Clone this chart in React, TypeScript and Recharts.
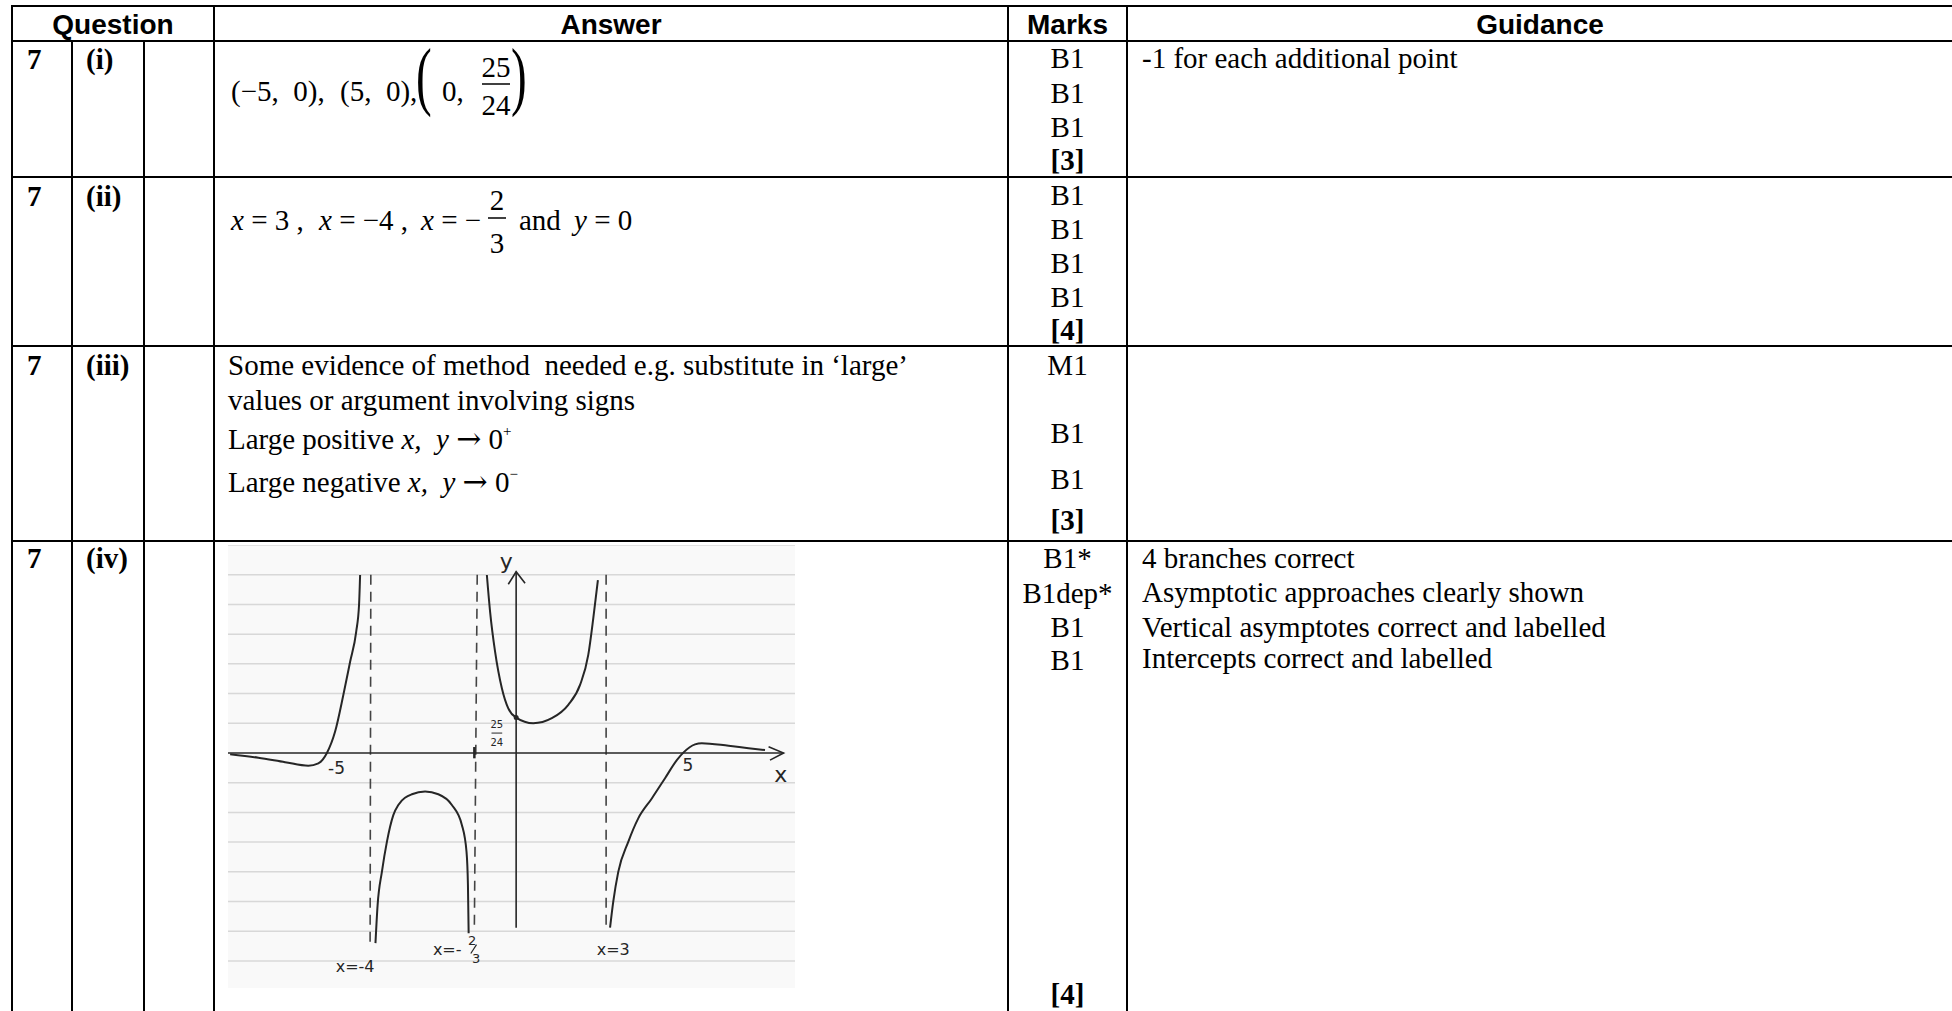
import React from "react";
import {
  ComposedChart,
  Line,
  XAxis,
  YAxis,
  ReferenceLine,
  ReferenceDot,
} from "recharts";

// hand-drawn sketch
// x in sketch units (the drawn -5 and 5 marks), y in ruled-line units
const leftBranch = [
  [-7.7, -0.04], [-6.91, -0.16], [-6.16, -0.31], [-5.51, -0.43], [-5.23, -0.35],
  [-4.99, 0], [-4.76, 0.72], [-4.53, 1.95], [-4.34, 3.07], [-4.17, 4.08],
  [-4.09, 4.98], [-4.06, 5.99],
];
const innerBranch = [
  [-3.63, -6.4], [-3.57, -5.12], [-3.45, -4.0], [-3.31, -2.99], [-3.13, -2.09],
  [-2.99, -1.75], [-2.61, -1.39], [-2.24, -1.3], [-1.87, -1.39], [-1.49, -1.75],
  [-1.21, -2.42], [-1.08, -3.32], [-1.04, -4.44], [-1.02, -6.07],
];
const middleBranch = [
  [-0.51, 5.99], [-0.42, 4.76], [-0.28, 3.41], [-0.09, 2.18], [0.09, 1.5],
  [0.31, 1.19], [0.79, 1.0], [1.31, 1.17], [1.77, 1.62], [2.1, 2.29],
  [2.33, 3.3], [2.47, 4.53], [2.6, 5.82],
];
const rightBranch = [
  [2.94, -5.88], [3.03, -5.0], [3.17, -4.0], [3.45, -2.99], [3.73, -2.2],
  [4.11, -1.53], [4.48, -0.85], [4.81, -0.24], [5.0, 0.02], [5.32, 0.29],
  [5.51, 0.33], [6.26, 0.24], [6.82, 0.16], [7.28, 0.1],
];

// dashed asymptotes x=-4, x=-2/3, x=3 as drawn
const asymptotes = [
  [[-3.76, 6.0], [-3.78, -6.43]],
  [[-0.78, 6.0], [-0.86, -5.85]],
  [[2.83, 6.0], [2.83, -6.02]],
];

const xAxisLine = [[-7.76, 0], [7.8, 0]];
const xArrow = [[7.38, 0.21], [7.8, 0], [7.42, -0.24]];
const yAxisLine = [[0.31, -5.88], [0.31, 6.1]];
const yArrow = [[0.09, 5.68], [0.31, 6.1], [0.56, 5.71]];
const tickMark = [[-0.86, 0.2], [-0.86, -0.18]];
const fracBar = [[-0.38, 0.67], [-0.08, 0.67]];
const fracSlash = [[-0.96, -6.75], [-0.8, -6.45]];

const rulings = [-7, -6, -5, -4, -3, -2, -1, 1, 2, 3, 4, 5, 6, 7];

const sketchLabels = [
  { x: 0.03, y: 6.45, text: "y", size: 22 },
  { x: 7.72, y: -0.72, text: "x", size: 22 },
  { x: -4.72, y: -0.5, text: "-5", size: 17 },
  { x: 5.12, y: -0.42, text: "5", size: 17 },
  { x: -4.2, y: -7.2, text: "x=-4", size: 16 },
  { x: -1.62, y: -6.6, text: "x=-", size: 16 },
  { x: 3.03, y: -6.6, text: "x=3", size: 16 },
  { x: -0.23, y: 0.95, text: "25", size: 10 },
  { x: -0.23, y: 0.35, text: "24", size: 10 },
  { x: -0.92, y: -6.3, text: "2", size: 13 },
  { x: -0.81, y: -6.92, text: "3", size: 13 },
];

// mark scheme table text
const headers = [
  { text: "Question", x: 113 },
  { text: "Answer", x: 611 },
  { text: "Marks", x: 1067.5 },
  { text: "Guidance", x: 1540 },
];
const marks = [
  { text: "B1", y: 68 }, { text: "B1", y: 102.5 }, { text: "B1", y: 137 }, { text: "[3]", y: 170, bold: true },
  { text: "B1", y: 205 }, { text: "B1", y: 239 }, { text: "B1", y: 273 }, { text: "B1", y: 306.5 },
  { text: "[4]", y: 340, bold: true },
  { text: "M1", y: 375 }, { text: "B1", y: 442.5 }, { text: "B1", y: 489 }, { text: "[3]", y: 530, bold: true },
  { text: "B1*", y: 568 }, { text: "B1dep*", y: 603 }, { text: "B1", y: 637 }, { text: "B1", y: 670 },
  { text: "[4]", y: 1004, bold: true },
];
const guidance = [
  { text: "-1 for each additional point", y: 68 },
  { text: "4 branches correct", y: 568 },
  { text: "Asymptotic approaches clearly shown", y: 602 },
  { text: "Vertical asymptotes correct and labelled", y: 637 },
  { text: "Intercepts correct and labelled", y: 668 },
];
const questions = [
  { part: "(i)", y: 69 },
  { part: "(ii)", y: 206 },
  { part: "(iii)", y: 375 },
  { part: "(iv)", y: 568 },
];

const pts = (arr: number[][]) => arr.map(([x, y]) => ({ x, y }));

const INK = "#262626";
const serif = "'Liberation Serif', 'Times New Roman', serif";
const sans = "'Liberation Sans', Arial, sans-serif";
const hand = "'DejaVu Sans', sans-serif";

const Sketch = () => (
  <div style={{ position: "absolute", left: 228, top: 545, width: 567, height: 443, background: "#f9f9f9" }}>
    <ComposedChart width={567} height={443} margin={{ top: 0, right: 0, bottom: 0, left: 0 }}>
      <XAxis type="number" dataKey="x" domain={[-7.76, 8.12]} allowDataOverflow hide />
      <YAxis type="number" domain={[-7.91, 7.0]} allowDataOverflow hide />
      {rulings.map((v) => (
        <ReferenceLine key={v} y={v} stroke="#d8d8d8" strokeWidth={1.5} />
      ))}
      {asymptotes.map((a, i) => (
        <Line key={"as" + i} data={pts(a)} dataKey="y" type="linear" stroke="#444" strokeWidth={1.6}
          strokeDasharray="10 7" dot={false} isAnimationActive={false} />
      ))}
      <Line data={pts(xAxisLine)} dataKey="y" type="linear" stroke={INK} strokeWidth={1.6} dot={false} isAnimationActive={false} />
      <Line data={pts(xArrow)} dataKey="y" type="linear" stroke={INK} strokeWidth={1.6} dot={false} isAnimationActive={false} />
      <Line data={pts(yAxisLine)} dataKey="y" type="linear" stroke={INK} strokeWidth={1.6} dot={false} isAnimationActive={false} />
      <Line data={pts(yArrow)} dataKey="y" type="linear" stroke={INK} strokeWidth={1.6} dot={false} isAnimationActive={false} />
      <Line data={pts(tickMark)} dataKey="y" type="linear" stroke={INK} strokeWidth={2.5} dot={false} isAnimationActive={false} />
      <Line data={pts(fracBar)} dataKey="y" type="linear" stroke={INK} strokeWidth={1} dot={false} isAnimationActive={false} />
      <Line data={pts(fracSlash)} dataKey="y" type="linear" stroke={INK} strokeWidth={1.2} dot={false} isAnimationActive={false} />
      {[leftBranch, innerBranch, middleBranch, rightBranch].map((b, i) => (
        <Line key={"br" + i} data={pts(b)} dataKey="y" type="monotone" stroke={INK} strokeWidth={2}
          dot={false} isAnimationActive={false} />
      ))}
      <ReferenceDot x={0.31} y={1.19} r={2.5} fill={INK} stroke="none" />
      {sketchLabels.map((l, i) => (
        <ReferenceDot key={"lb" + i} x={l.x} y={l.y} r={1} ifOverflow="visible"
          shape={(p: any) => (
            <text x={p.cx} y={p.cy} textAnchor="middle" dominantBaseline="central"
              fontFamily={hand} fontSize={l.size} fill={INK}>
              {l.text}
            </text>
          )} />
      ))}
    </ComposedChart>
  </div>
);

const Arrow = () => (
  <tspan fontFamily="'DejaVu Serif', serif" fontSize={30}>{"\u2192"}</tspan>
);

const App = () => {
  const hLines = [6, 41, 177, 346, 541];
  return (
    <div style={{ position: "absolute", left: 0, top: 0, width: 1952, height: 1011, overflow: "hidden", background: "#fff" }}>
      <svg width={1952} height={1011} style={{ position: "absolute", left: 0, top: 0 }}>
        {hLines.map((y) => (
          <line key={y} x1={11} x2={1952} y1={y} y2={y} stroke="#000" strokeWidth={2} />
        ))}
        {[12, 214, 1008, 1127].map((x) => (
          <line key={x} x1={x} x2={x} y1={5} y2={1011} stroke="#000" strokeWidth={2} />
        ))}
        {[72, 144].map((x) => (
          <line key={x} x1={x} x2={x} y1={41} y2={1011} stroke="#000" strokeWidth={2} />
        ))}

        {headers.map((h) => (
          <text key={h.text} x={h.x} y={34} textAnchor="middle" fontFamily={sans} fontWeight="bold" fontSize={28}>
            {h.text}
          </text>
        ))}

        {questions.map((q) => (
          <g key={q.part}>
            <text x={27} y={q.y} fontFamily={serif} fontWeight="bold" fontSize={29}>7</text>
            <text x={86} y={q.y} fontFamily={serif} fontWeight="bold" fontSize={29}>{q.part}</text>
          </g>
        ))}

        {marks.map((m, i) => (
          <text key={i} x={1067.5} y={m.y} textAnchor="middle" fontFamily={serif}
            fontWeight={m.bold ? "bold" : "normal"} fontSize={29}>
            {m.text}
          </text>
        ))}

        {guidance.map((g, i) => (
          <text key={i} x={1142} y={g.y} fontFamily={serif} fontSize={29}>{g.text}</text>
        ))}

        {/* (i) answer */}
        <g fontFamily={serif} fontSize={29}>
          <text x={231} y={101} xmlSpace="preserve">{"(\u22125,  0),"}</text>
          <text x={340} y={101} xmlSpace="preserve">{"(5,  0),"}</text>
          <text transform="translate(416,101) scale(0.62,1)" fontSize={76}>(</text>
          <text x={442} y={101}>0,</text>
          <text x={496} y={77} textAnchor="middle">25</text>
          <line x1={482} x2={510} y1={84} y2={84} stroke="#000" strokeWidth={1.5} />
          <text x={496} y={115} textAnchor="middle">24</text>
          <text transform="translate(511,101) scale(0.62,1)" fontSize={76}>)</text>
        </g>

        {/* (ii) answer */}
        <g fontFamily={serif} fontSize={29}>
          <text x={231} y={230} xmlSpace="preserve"><tspan fontStyle="italic">x</tspan>{" = 3 ,"}</text>
          <text x={319} y={230} xmlSpace="preserve"><tspan fontStyle="italic">x</tspan>{" = \u22124 ,"}</text>
          <text x={421} y={230} xmlSpace="preserve"><tspan fontStyle="italic">x</tspan>{" = \u2212"}</text>
          <text x={497} y={210} textAnchor="middle">2</text>
          <line x1={488} x2={506} y1={218} y2={218} stroke="#000" strokeWidth={1.5} />
          <text x={497} y={253} textAnchor="middle">3</text>
          <text x={519} y={230}>and</text>
          <text x={574} y={230} xmlSpace="preserve"><tspan fontStyle="italic">y</tspan>{" = 0"}</text>
        </g>

        {/* (iii) answer */}
        <g fontFamily={serif} fontSize={29}>
          <text x={228} y={375} xmlSpace="preserve">{"Some evidence of method  needed e.g. substitute in \u2018large\u2019"}</text>
          <text x={228} y={410}>values or argument involving signs</text>
          <text x={228} y={449} xmlSpace="preserve">
            {"Large positive "}<tspan fontStyle="italic">x,</tspan>{"  "}<tspan fontStyle="italic">y</tspan>
            {" "}<Arrow />{" 0"}<tspan fontSize={15} dy={-13}>+</tspan>
          </text>
          <text x={228} y={492} xmlSpace="preserve">
            {"Large negative "}<tspan fontStyle="italic">x,</tspan>{"  "}<tspan fontStyle="italic">y</tspan>
            {" "}<Arrow />{" 0"}<tspan fontSize={15} dy={-13}>{"\u2212"}</tspan>
          </text>
        </g>
      </svg>
      <Sketch />
    </div>
  );
};

export default App;
